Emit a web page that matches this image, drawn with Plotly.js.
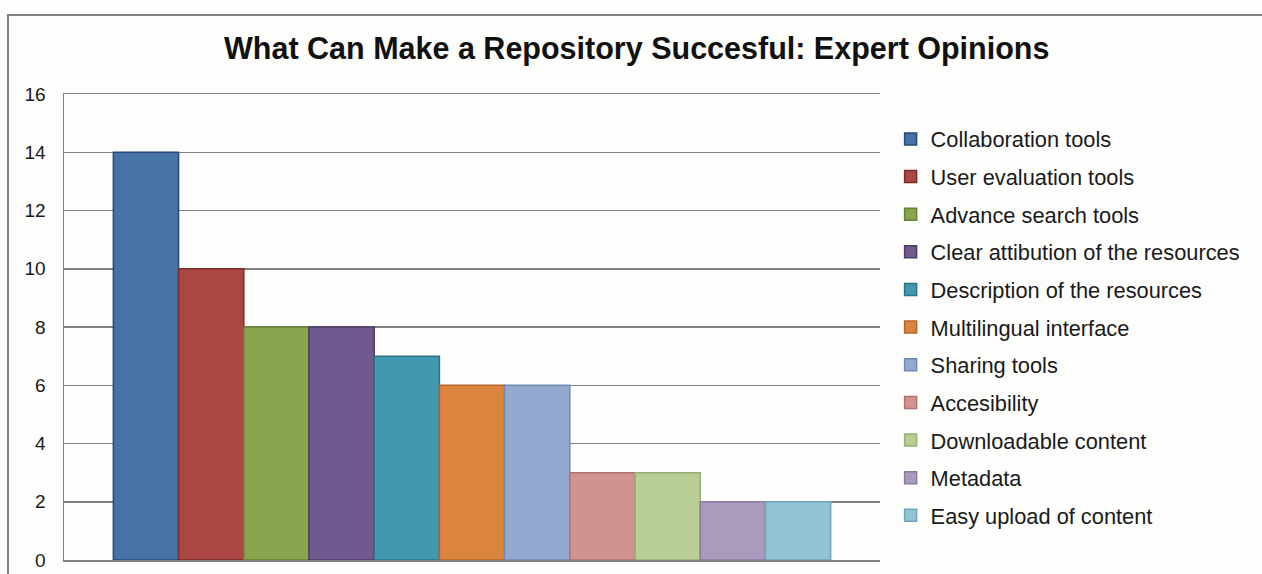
<!DOCTYPE html>
<html>
<head>
<meta charset="utf-8">
<script src="https://cdn.plot.ly/plotly-3.0.1.min.js"></script>
<style>
html,body{margin:0;padding:0;background:#fdfdfb;overflow:hidden;}
#frame{position:absolute;left:7px;top:14px;width:1270px;height:580px;border:2px solid #808080;background:#fdfdfb;}
#chart{position:absolute;left:0;top:0;}
</style>
</head>
<body>
<div id="frame"><div id="chart"></div></div>
<script>
const categories = ["Collaboration tools","User evaluation tools","Advance search tools","Clear attibution of the resources","Description of the resources","Multilingual interface","Sharing tools","Accesibility","Downloadable content","Metadata","Easy upload of content"];
const values = [14, 10, 8, 8, 7, 6, 6, 3, 3, 2, 2];
const fillColors = ["#4572A7","#AA4643","#89A54E","#71588F","#4198AF","#DB843D","#93A9CF","#D19392","#B9CD96","#A99BBD","#92C3D5"];
const lineColors = ["#2A4A75","#7A2C2A","#65803A","#4E3B68","#2D7385","#B2652A","#7289B5","#B27270","#98AE75","#8A7BA0","#6EA5B8"];
const yTicks = [0,2,4,6,8,10,12,14,16];

const traces = categories.map((name, i) => ({
  type: 'bar',
  name: name,
  x: ['all'],
  y: [values[i]],
  legendgroup: 'g' + i,
  marker: {color: fillColors[i], line: {color: lineColors[i], width: 1.5}},
  hoverinfo: 'name+y'
}));

const layout = {
  width: 1253, height: 560,
  margin: {l: 55, r: 382, t: 78, b: 16},
  paper_bgcolor: '#fdfdfb',
  plot_bgcolor: '#fdfdfb',
  barmode: 'group',
  bargap: 0.121,
  bargroupgap: 0,
  font: {family: 'Liberation Sans, Arial, sans-serif', color: '#222'},
  title: {
    text: 'What Can Make a Repository Succesful: Expert Opinions',
    font: {size: 30.5, color: '#111', weight: 'bold', family: 'Liberation Sans, Arial, sans-serif'},
    xref: 'container', x: 0.501, xanchor: 'center',
    yref: 'container', y: 0.943, yanchor: 'middle'
  },
  xaxis: {
    showticklabels: false, showgrid: false, zeroline: false,
    showline: true, mirror: true, linecolor: '#808080', linewidth: 1.5, ticks: ''
  },
  yaxis: {
    range: [0, 16], tickvals: yTicks, ticktext: yTicks.map(String),
    showgrid: true, gridcolor: '#808080', gridwidth: 1.5,
    showline: true, linecolor: '#808080', linewidth: 1.5,
    zeroline: false, ticks: '', ticklabelstandoff: 13,
    tickfont: {size: 19, color: '#1a1a1a'}
  },
  showlegend: true,
  legend: {
    x: 1.013, xanchor: 'left', y: 0.948, yanchor: 'top',
    font: {size: 21.8, color: '#1a1a1a'},
    bgcolor: 'rgba(0,0,0,0)',
    itemwidth: 30, tracegroupgap: 6.3,
    traceorder: 'grouped'
  }
};

Plotly.newPlot('chart', traces, layout, {displayModeBar: false, staticPlot: true});
</script>
</body>
</html>
